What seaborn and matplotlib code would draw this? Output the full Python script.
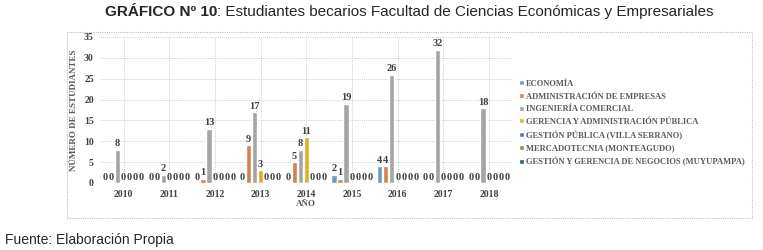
import numpy as np
import pandas as pd
import matplotlib
matplotlib.use("Agg")
import matplotlib.pyplot as plt
import seaborn as sns
from matplotlib.patches import Rectangle

# data
years = ["2010", "2011", "2012", "2013", "2014", "2015", "2016", "2017", "2018"]
carreras = [
    "ECONOMÍA",
    "ADMINISTRACIÓN DE EMPRESAS",
    "INGENIERÍA COMERCIAL",
    "GERENCIA Y ADMINISTRACIÓN PÚBLICA",
    "GESTIÓN PÚBLICA (VILLA SERRANO)",
    "MERCADOTECNIA (MONTEAGUDO)",
    "GESTIÓN Y GERENCIA DE NEGOCIOS (MUYUPAMPA)",
]
economia = [0, 0, 0, 0, 0, 2, 4, 0, 0]
administracion = [0, 0, 1, 9, 5, 1, 4, 0, 0]
ingenieria = [8, 2, 13, 17, 8, 19, 26, 32, 18]
gerencia = [0, 0, 0, 3, 11, 0, 0, 0, 0]
villa_serrano = [0, 0, 0, 0, 0, 0, 0, 0, 0]
monteagudo = [0, 0, 0, 0, 0, 0, 0, 0, 0]
muyupampa = [0, 0, 0, 0, 0, 0, 0, 0, 0]

series = [economia, administracion, ingenieria, gerencia,
          villa_serrano, monteagudo, muyupampa]
colors = ["#5B9BD5", "#ED7D31", "#A5A5A5", "#FFC000",
          "#4472C4", "#70AD47", "#255E91"]

df = pd.DataFrame(
    [(y, c, v[i]) for c, v in zip(carreras, series) for i, y in enumerate(years)],
    columns=["year", "carrera", "n"],
)

sns.set_theme(style="white")
plt.rcParams["font.family"] = ["Liberation Serif", "DejaVu Serif"]

fig = plt.figure(figsize=(7.63, 2.5), dpi=100)
ax = fig.add_axes([0.132, 0.268, 0.539, 0.584])

# outer chart frame
fig.patches.append(
    Rectangle((0.088, 0.128), 0.898, 0.744, transform=fig.transFigure,
              fill=False, edgecolor="#BFBFBF", linestyle=(0, (1, 1)), lw=0.8)
)

sns.barplot(data=df, x="year", y="n", hue="carrera", hue_order=carreras,
            palette=colors, width=0.92, gap=0.12, ax=ax, legend=True)

for cont in ax.containers:
    ax.bar_label(cont, fmt="%d", padding=1, fontsize=7.5, fontweight="bold",
                 color="#404040")

ax.set_ylim(0, 35)
ax.set_yticks(np.arange(0, 36, 5))
ax.grid(True, axis="both", color="#C8D8C0", linestyle=(0, (1, 1)), lw=0.7)
ax.set_axisbelow(True)
for s in ax.spines.values():
    s.set_visible(False)
ax.tick_params(axis="both", length=0, labelsize=7, colors="#404040", pad=5)
for lbl in ax.get_xticklabels() + ax.get_yticklabels():
    lbl.set_fontweight("bold")
ax.set_xlabel("AÑO", fontsize=6.5, fontweight="bold", color="#595959", labelpad=1)
ax.set_ylabel("NÚMERO DE ESTUDIANTES", fontsize=6.5, fontweight="bold",
              color="#595959", labelpad=4)

leg = ax.legend(loc="center left", bbox_to_anchor=(1.01, 0.41), frameon=False,
                fontsize=6.1, handlelength=0.5, handleheight=0.5, handletextpad=0.3,
                labelspacing=0.55, borderaxespad=0)
for t in leg.get_texts():
    t.set_fontweight("bold")
    t.set_color("#595959")

# title: bold prefix + normal text
sans = ["Liberation Sans", "DejaVu Sans"]
t1 = fig.text(0.137, 0.952, "GRÁFICO Nº 10", ha="left", va="center",
              fontsize=11, fontweight="bold", family=sans)
fig.canvas.draw()
bb = t1.get_window_extent().transformed(fig.transFigure.inverted())
fig.text(bb.x1, 0.952, ": Estudiantes becarios Facultad de Ciencias Económicas y Empresariales",
         ha="left", va="center", fontsize=11, family=sans)
fig.text(0.006, 0.04, "Fuente: Elaboración Propia", ha="left", va="center",
         fontsize=10, family=sans)

plt.savefig("out.png", dpi=100)
